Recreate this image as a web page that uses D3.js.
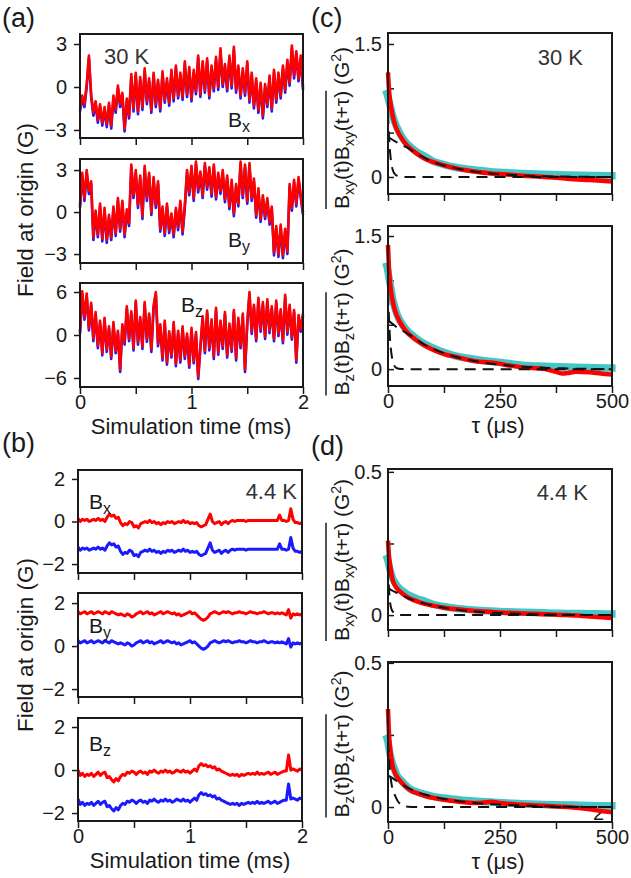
<!DOCTYPE html>
<html><head><meta charset="utf-8">
<script src="https://cdn.jsdelivr.net/npm/d3@7"></script>
<style>
html,body{margin:0;padding:0;background:#fff;}
svg{display:block;font-family:"Liberation Sans",Arial,Helvetica,sans-serif;}
</style></head><body>
<svg id="chart" width="631" height="878"></svg>
<script>
// ---------- time axis (ms), sampled every 0.02 ms ----------
const timeMs = d3.range(101).map(i => i * 0.02);
const timeTicks = [0, 0.5, 1, 1.5, 2];
const timeTickLabels = [0, 1, 2];

// ---------- (a) 30 K field traces (G) ----------
const bx30Red = [-1.5,-0.6,-1.2,0.2,2.2,-0.5,-1.8,-1.0,-2.3,-1.2,
 -2.5,-1.4,-2.6,-1.1,-2.7,-0.6,-1.6,0.1,-1.2,-0.4,
 -2.9,-0.8,-2.0,0.9,-1.5,1.0,-1.7,0.7,-1.4,1.3,
 -1.0,0.6,-1.6,1.0,-1.2,0.5,-1.5,1.1,-0.9,0.6,
 -1.1,1.2,-0.8,1.5,-0.6,1.0,-0.7,1.8,-0.5,1.4,
 -0.8,1.2,-0.3,2.2,-0.5,1.8,-0.2,2.0,-0.6,1.5,
 -0.1,2.1,0.0,2.7,0.2,1.6,-0.1,2.2,0.1,2.8,
 -0.2,1.5,-0.6,1.3,-0.4,1.8,-0.9,1.0,-1.3,0.6,
 -1.6,0.3,-2.0,0.2,-1.2,0.8,-1.5,1.2,-0.9,1.0,
 -0.6,1.5,-0.2,1.9,0.3,2.9,0.8,2.5,0.6,2.2,
 0.0];
const bx30Blue = [-1.7,-0.8,-1.4,0.0,2.0,-0.7,-2.0,-1.2,-2.5,-1.4,
 -2.7,-1.6,-2.8,-1.3,-2.9,-0.8,-1.8,-0.1,-1.4,-0.6,
 -3.1,-1.0,-2.2,0.7,-1.7,0.8,-1.9,0.5,-1.6,1.1,
 -1.2,0.4,-1.8,0.8,-1.4,0.3,-1.7,0.9,-1.1,0.4,
 -1.3,1.0,-1.0,1.3,-0.8,0.8,-0.9,1.6,-0.7,1.2,
 -1.0,1.0,-0.5,2.0,-0.7,1.6,-0.4,1.8,-0.8,1.3,
 -0.3,1.9,-0.2,2.5,0.0,1.4,-0.3,2.0,-0.1,2.6,
 -0.4,1.3,-0.8,1.1,-0.6,1.6,-1.1,0.8,-1.5,0.4,
 -1.8,0.1,-2.2,0.0,-1.4,0.6,-1.7,1.0,-1.1,0.8,
 -0.8,1.3,-0.4,1.7,0.1,2.7,0.6,2.3,0.4,2.0,
 -0.2];
const by30Red = [0.5,2.8,1.0,3.0,1.5,2.2,-1.8,0.1,-1.6,0.6,
 -1.9,0.3,-2.0,-0.2,-1.8,0.4,-1.5,1.0,-1.2,0.8,
 -1.6,0.2,-0.8,3.4,1.2,3.0,0.5,2.6,-0.3,3.3,
 1.0,2.8,0.0,2.5,0.5,2.2,-1.2,0.4,-1.5,0.6,
 -1.3,-0.1,-1.6,0.3,-1.1,0.8,-1.4,0.5,3.0,1.4,
 3.3,1.0,3.6,1.6,2.9,1.2,3.5,1.8,3.2,1.3,
 3.4,1.1,2.8,1.5,3.0,0.9,2.6,0.4,2.3,-0.1,
 2.0,0.6,3.6,1.2,3.4,0.8,3.5,1.0,2.4,-0.2,
 1.7,-0.5,1.2,-0.3,1.0,-0.7,0.4,-2.9,-1.0,-3.0,
 -0.9,-3.1,-1.2,-2.8,2.0,0.3,2.3,0.6,2.5,1.2,
 0.0];
const by30Blue = [0.3,2.6,0.8,2.8,1.3,2.0,-2.0,-0.1,-1.8,0.4,
 -2.1,0.1,-2.2,-0.4,-2.0,0.2,-1.7,0.8,-1.4,0.6,
 -1.8,0.0,-1.0,3.2,1.0,2.8,0.3,2.4,-0.5,3.1,
 0.8,2.6,-0.2,2.3,0.3,2.0,-1.4,0.2,-1.7,0.4,
 -1.5,-0.3,-1.8,0.1,-1.3,0.6,-1.6,0.3,2.8,1.2,
 3.1,0.8,3.4,1.4,2.7,1.0,3.3,1.6,3.0,1.1,
 3.2,0.9,2.6,1.3,2.8,0.7,2.4,0.2,2.1,-0.3,
 1.8,0.4,3.4,1.0,3.2,0.6,3.3,0.8,2.2,-0.4,
 1.5,-0.7,1.0,-0.5,0.8,-0.9,0.2,-3.1,-1.2,-3.2,
 -1.1,-3.3,-1.4,-3.0,1.8,0.1,2.1,0.4,2.3,1.0,
 -0.2];
const bz30Red = [0.5,6.1,2.5,5.8,1.0,4.5,-0.5,3.2,-1.5,2.0,
 -2.5,2.4,-2.0,1.2,-3.0,1.8,-2.2,0.6,-4.8,1.5,
 -1.0,4.0,-0.5,3.3,-1.8,4.8,-1.0,2.5,-1.6,4.6,
 -0.6,3.0,-2.0,4.1,6.0,-1.2,1.5,-3.2,2.0,-3.8,
 0.5,-2.8,1.8,-4.0,0.6,-3.5,1.2,-3.0,0.2,-4.2,
 1.0,-3.6,0.4,-5.8,-1.5,2.6,-2.2,3.4,-1.8,2.2,
 -3.0,3.8,-2.4,2.0,-1.6,3.2,-2.8,1.6,-2.0,3.5,
 -3.2,2.4,-1.5,3.0,-4.8,1.8,6.0,0.5,4.2,-0.5,
 5.2,0.8,4.6,-0.2,5.0,0.6,4.0,-0.5,4.8,0.2,
 3.6,-0.8,5.6,0.4,4.2,-0.3,3.5,-3.5,2.8,0.8,
 3.0];
const bz30Blue = [0.15,5.75,2.15,5.45,0.65,4.15,-0.85,2.85,-1.85,1.65,
 -2.85,2.05,-2.35,0.85,-3.35,1.45,-2.55,0.25,-5.15,1.15,
 -1.35,3.65,-0.85,2.95,-2.15,4.45,-1.35,2.15,-1.95,4.25,
 -0.95,2.65,-2.35,3.75,5.65,-1.55,1.15,-3.55,1.65,-4.15,
 0.15,-3.15,1.45,-4.35,0.25,-3.85,0.85,-3.35,-0.15,-4.55,
 0.65,-3.95,0.05,-6.15,-1.85,2.25,-2.55,3.05,-2.15,1.85,
 -3.35,3.45,-2.75,1.65,-1.95,2.85,-3.15,1.25,-2.35,3.15,
 -3.55,2.05,-1.85,2.65,-5.15,1.45,5.65,0.15,3.85,-0.85,
 4.85,0.45,4.25,-0.55,4.65,0.25,3.65,-0.85,4.45,-0.15,
 3.25,-1.15,5.25,0.05,3.85,-0.65,3.15,-3.85,2.45,0.45,
 2.65];

// ---------- (b) 4.4 K field traces (G) ----------
const bx44Red = [0.15,0.0,0.1,0.05,0.1,0.0,0.05,0.1,0.05,0.15,
 0.05,0.1,0.0,0.2,0.35,0.25,0.3,0.15,0.2,-0.05,
 -0.2,-0.1,-0.15,0.0,-0.05,-0.25,-0.2,-0.3,-0.1,-0.05,
 0.0,-0.05,0.05,-0.05,0.0,-0.1,-0.05,-0.15,-0.05,-0.1,
 0.0,-0.05,0.0,-0.1,-0.05,0.0,-0.05,0.05,-0.05,0.0,
 -0.1,-0.05,-0.1,-0.05,-0.2,-0.25,-0.2,-0.15,0.1,0.35,
 0.0,-0.1,-0.05,0.0,-0.15,-0.05,0.0,-0.1,0.0,0.05,
 0.0,0.05,0.05,0.05,0.05,0.0,0.05,0.05,0.05,0.05,
 0.05,0.05,0.05,0.05,0.05,0.05,0.05,0.05,0.05,0.05,
 0.3,0.05,0.05,0.0,0.05,0.6,0.1,-0.05,-0.05,-0.1,
 -0.05];
const bx44Blue = [-1.2,-1.35,-1.25,-1.3,-1.25,-1.35,-1.3,-1.25,-1.3,-1.2,
 -1.3,-1.25,-1.35,-1.15,-1.0,-1.1,-1.05,-1.2,-1.15,-1.4,
 -1.55,-1.45,-1.5,-1.35,-1.4,-1.6,-1.55,-1.65,-1.45,-1.4,
 -1.35,-1.4,-1.3,-1.4,-1.35,-1.45,-1.4,-1.5,-1.4,-1.45,
 -1.35,-1.4,-1.35,-1.45,-1.4,-1.35,-1.4,-1.3,-1.4,-1.35,
 -1.45,-1.4,-1.45,-1.4,-1.55,-1.6,-1.55,-1.5,-1.25,-1.0,
 -1.35,-1.45,-1.4,-1.35,-1.5,-1.4,-1.35,-1.45,-1.35,-1.3,
 -1.35,-1.3,-1.3,-1.3,-1.3,-1.35,-1.3,-1.3,-1.3,-1.3,
 -1.3,-1.3,-1.3,-1.3,-1.3,-1.3,-1.3,-1.3,-1.3,-1.3,
 -1.05,-1.3,-1.3,-1.35,-1.3,-0.75,-1.25,-1.4,-1.4,-1.45,
 -1.4];
const by44Red = [1.6,1.5,1.55,1.6,1.5,1.55,1.6,1.5,1.55,1.6,
 1.55,1.5,1.6,1.55,1.5,1.6,1.55,1.5,1.45,1.5,
 1.45,1.4,1.5,1.45,1.35,1.4,1.5,1.55,1.6,1.5,
 1.55,1.6,1.5,1.55,1.45,1.5,1.55,1.6,1.5,1.55,
 1.6,1.55,1.5,1.55,1.45,1.5,1.4,1.45,1.5,1.55,
 1.6,1.5,1.55,1.45,1.35,1.25,1.2,1.25,1.35,1.5,
 1.55,1.6,1.55,1.5,1.55,1.6,1.55,1.6,1.55,1.5,
 1.55,1.55,1.6,1.55,1.55,1.5,1.55,1.6,1.55,1.55,
 1.5,1.55,1.55,1.6,1.55,1.5,1.55,1.55,1.5,1.55,
 1.5,1.55,1.5,1.45,1.7,1.3,1.5,1.45,1.5,1.45,
 1.5];
const by44Blue = [0.25,0.15,0.2,0.25,0.15,0.2,0.25,0.15,0.2,0.25,
 0.2,0.15,0.25,0.2,0.15,0.25,0.2,0.15,0.1,0.15,
 0.1,0.05,0.15,0.1,0.0,0.05,0.15,0.2,0.25,0.15,
 0.2,0.25,0.15,0.2,0.1,0.15,0.2,0.25,0.15,0.2,
 0.25,0.2,0.15,0.2,0.1,0.15,0.05,0.1,0.15,0.2,
 0.25,0.15,0.2,0.1,0.0,-0.1,-0.15,-0.1,0.0,0.15,
 0.2,0.25,0.2,0.15,0.2,0.25,0.2,0.25,0.2,0.15,
 0.2,0.2,0.25,0.2,0.2,0.15,0.2,0.25,0.2,0.2,
 0.15,0.2,0.2,0.25,0.2,0.15,0.2,0.2,0.15,0.2,
 0.15,0.2,0.15,0.1,0.35,-0.05,0.15,0.1,0.15,0.1,
 0.15];
const bz44Red = [0.0,-0.25,-0.15,-0.3,-0.2,-0.25,-0.15,-0.3,-0.2,-0.1,
 -0.25,-0.15,-0.1,-0.35,-0.3,-0.45,-0.55,-0.4,-0.5,-0.3,
 -0.2,-0.25,-0.1,-0.15,-0.05,-0.1,-0.2,-0.1,-0.05,-0.15,
 -0.1,-0.2,-0.05,-0.1,0.0,-0.1,-0.15,-0.05,-0.1,0.0,
 -0.1,-0.05,-0.15,-0.1,0.0,-0.05,-0.1,0.0,-0.1,-0.05,
 -0.15,-0.05,0.05,-0.05,0.2,0.3,0.2,0.25,0.15,0.2,
 0.1,0.15,0.0,0.05,-0.05,-0.1,-0.15,-0.2,-0.25,-0.2,
 -0.25,-0.2,-0.3,-0.2,-0.25,-0.2,-0.15,-0.2,-0.15,-0.2,
 -0.1,-0.2,-0.15,-0.2,-0.15,-0.1,-0.2,-0.15,-0.1,-0.2,
 -0.15,-0.1,-0.05,-0.05,0.7,0.0,0.05,0.0,-0.05,0.05,
 0.0];
const bz44Blue = [-1.35,-1.6,-1.5,-1.65,-1.55,-1.6,-1.5,-1.65,-1.55,-1.45,
 -1.6,-1.5,-1.45,-1.7,-1.65,-1.8,-1.9,-1.75,-1.85,-1.65,
 -1.55,-1.6,-1.45,-1.5,-1.4,-1.45,-1.55,-1.45,-1.4,-1.5,
 -1.45,-1.55,-1.4,-1.45,-1.35,-1.45,-1.5,-1.4,-1.45,-1.35,
 -1.45,-1.4,-1.5,-1.45,-1.35,-1.4,-1.45,-1.35,-1.45,-1.4,
 -1.5,-1.4,-1.3,-1.4,-1.15,-1.05,-1.15,-1.1,-1.2,-1.15,
 -1.25,-1.2,-1.35,-1.3,-1.4,-1.45,-1.5,-1.55,-1.6,-1.55,
 -1.6,-1.55,-1.65,-1.55,-1.6,-1.55,-1.5,-1.55,-1.5,-1.55,
 -1.45,-1.55,-1.5,-1.55,-1.5,-1.45,-1.55,-1.5,-1.45,-1.55,
 -1.5,-1.45,-1.4,-1.4,-0.65,-1.35,-1.3,-1.35,-1.4,-1.3,
 -1.35];

// ---------- (c),(d) autocorrelations (G^2) vs tau (us) ----------
const tauTicks = [0, 125, 250, 375, 500];
const tauTickLabels = [0, 250, 500];
const fitTau = [-5,0,2,5,10,15,20,30,40,50,65,80,100,125,150,175,200,230,260,300,350,400,450,500,508];

const cxyTau = [0,2,5,10,15,20,30,40,50,65,80,100,125,150,175,200,230,260,300,350,400,450,500];
const cxyData = [1.18,1.0,0.85,0.7,0.6,0.53,0.44,0.37,0.32,0.26,0.21,0.17,0.13,0.1,0.075,0.055,0.04,0.03,0.015,0.0,-0.02,-0.035,-0.05];
const cxyFit = [0.98,0.9,0.86,0.8,0.7,0.62,0.56,0.46,0.39,0.34,0.28,0.24,0.18,0.14,0.11,0.09,0.075,0.06,0.05,0.04,0.03,0.022,0.017,0.013,0.013];
const cxySlowTau = [0,10,20,30,40,50,65,80,100,125,150,200,250,300,400,500];
const cxySlow = [0.45,0.42,0.39,0.36,0.34,0.31,0.26,0.22,0.17,0.13,0.1,0.055,0.03,0.016,0.004,0.0];
const cxyFastTau = [0,2,4,6,8,10,13,16,20,30,40,500];
const cxyFast = [0.72,0.48,0.32,0.21,0.14,0.09,0.05,0.03,0.015,0.003,0,0];

const czTau = [0,2,5,10,15,20,30,40,50,65,80,100,125,150,175,200,215,230,245,260,300,350,375,390,400,420,450,475,500];
const czData = [1.4,1.15,0.95,0.78,0.67,0.6,0.5,0.43,0.38,0.32,0.27,0.22,0.17,0.14,0.11,0.085,0.08,0.075,0.065,0.05,0.02,0.0,-0.03,-0.05,-0.045,-0.03,-0.035,-0.05,-0.06];
const czFit = [1.2,1.1,1.03,0.95,0.8,0.7,0.62,0.52,0.45,0.4,0.34,0.29,0.24,0.19,0.15,0.125,0.105,0.085,0.07,0.045,0.033,0.024,0.018,0.013,0.013];
const czSlowTau = [0,5,10,20,30,40,50,65,80,100,125,150,200,250,300,400,500];
const czSlow = [0.55,0.53,0.51,0.47,0.44,0.41,0.38,0.33,0.28,0.23,0.18,0.14,0.085,0.05,0.028,0.008,0.0];
const czFastTau = [0,2,4,5,7,10,13,16,20,30,40,500];
const czFast = [0.85,0.6,0.38,0.3,0.2,0.1,0.05,0.025,0.01,0.002,0,0];

const dxyTau = [0,2,5,10,15,20,30,40,50,65,80,100,125,150,175,200,250,300,350,400,450,500];
const dxyData = [0.26,0.21,0.17,0.125,0.105,0.093,0.078,0.066,0.057,0.048,0.04,0.033,0.026,0.021,0.017,0.014,0.009,0.006,0.003,0.0,-0.005,-0.01];
const dxyFit = [0.21,0.19,0.175,0.155,0.13,0.115,0.103,0.087,0.076,0.067,0.057,0.05,0.038,0.03,0.024,0.02,0.017,0.014,0.012,0.01,0.008,0.006,0.005,0.004,0.004];
const dxySlowTau = [0,5,10,20,30,40,50,65,80,100,125,150,200,250,300,400,500];
const dxySlow = [0.095,0.09,0.085,0.078,0.07,0.063,0.056,0.048,0.041,0.033,0.026,0.02,0.012,0.007,0.004,0.001,0];
const dxyFastTau = [0,2,3,5,8,12,18,25,35,500];
const dxyFast = [0.17,0.1,0.07,0.04,0.02,0.01,0.004,0.001,0,0];

const dzTau = [0,2,5,10,15,20,30,40,50,65,80,100,125,150,175,200,215,230,245,260,300,350,400,450,475,500];
const dzData = [0.34,0.26,0.2,0.145,0.12,0.105,0.085,0.07,0.058,0.048,0.04,0.032,0.025,0.02,0.016,0.014,0.016,0.018,0.015,0.012,0.008,0.004,0.0,-0.008,-0.014,-0.018];
const dzFit = [0.25,0.225,0.205,0.18,0.15,0.13,0.11,0.092,0.075,0.062,0.052,0.045,0.037,0.031,0.027,0.023,0.02,0.017,0.015,0.011,0.009,0.007,0.005,0.004,0.004];
const dzSlowTau = [0,5,10,20,30,40,50,65,80,100,125,150,200,250,300,400,500];
const dzSlow = [0.11,0.105,0.1,0.09,0.08,0.07,0.062,0.052,0.044,0.036,0.028,0.022,0.013,0.008,0.005,0.001,0];
const dzFastTau = [0,3,6,9,13,17,22,28,35,45,60,500];
const dzFast = [0.23,0.15,0.1,0.07,0.05,0.035,0.02,0.01,0.004,0.001,0,0];

// ---------- drawing ----------
const svg = d3.select("#chart");
const INK = "#1a1a1a";
const RED = "#ff0000", BLUE = "#1a1aff", CYAN = "#44c6c6";
const minusFmt = d => (d < 0 ? "\u2212" + Math.abs(d) : String(d));

function styleAxis(sel, fs) {
  sel.select(".domain").remove();
  sel.selectAll(".tick line").attr("stroke", INK).attr("stroke-width", 1.5);
  sel.selectAll(".tick text").attr("fill", INK).attr("font-size", fs)
    .attr("font-family", '"Liberation Sans", Arial, sans-serif');
}

function box(p) {
  svg.append("rect").attr("x", p.left).attr("y", p.top)
    .attr("width", p.right - p.left).attr("height", p.bottom - p.top)
    .attr("fill", "none").attr("stroke", INK).attr("stroke-width", 2);
}

function timePanel(p) {
  const x = d3.scaleLinear().domain([0, 2]).range([p.left, p.right]);
  const y = d3.scaleLinear().domain(p.yDomain).range([p.bottom, p.top]);
  const ya = d3.axisLeft(y).tickValues(p.yTicks).tickSize(6).tickPadding(7).tickFormat(minusFmt);
  svg.append("g").attr("transform", `translate(${p.left},0)`).call(ya).call(s => styleAxis(s, 20));
  const xa = d3.axisBottom(x).tickValues(timeTicks).tickSize(7).tickPadding(1)
    .tickFormat(d => (p.xLabels && timeTickLabels.includes(d)) ? String(d) : "");
  svg.append("g").attr("transform", `translate(0,${p.bottom})`).call(xa).call(s => styleAxis(s, 20));
  const line = d3.line().x((d, i) => x(timeMs[i])).y(d => y(d));
  svg.append("path").attr("d", line(p.blue)).attr("fill", "none").attr("stroke", BLUE)
    .attr("stroke-width", p.w).attr("stroke-linejoin", "round");
  svg.append("path").attr("d", line(p.red)).attr("fill", "none").attr("stroke", RED)
    .attr("stroke-width", p.w).attr("stroke-linejoin", "round");
  box(p);
}

function corrPanel(p) {
  const x = d3.scaleLinear().domain([0, 500]).range([p.left, p.right]);
  const y = d3.scaleLinear().domain(p.yDomain).range([p.bottom, p.top]);
  const ya = d3.axisLeft(y).tickValues(p.yTicks).tickSize(-6).tickPadding(6)
    .tickFormat(d => p.yLabels.includes(d) ? String(d) : "");
  svg.append("g").attr("transform", `translate(${p.left},0)`).call(ya).call(s => styleAxis(s, 20));
  const xa = d3.axisBottom(x).tickValues(tauTicks).tickSize(7).tickPadding(1)
    .tickFormat(d => (p.xLabels && tauTickLabels.includes(d)) ? String(d) : "");
  svg.append("g").attr("transform", `translate(0,${p.bottom})`).call(xa).call(s => styleAxis(s, 20));
  if (p.extra) p.extra(x, y);
  const mk = (taus) => d3.line().curve(d3.curveMonotoneX).x((d, i) => x(taus[i])).y(d => y(d));
  svg.append("path").attr("d", mk(fitTau)(p.fit)).attr("fill", "none").attr("stroke", CYAN)
    .attr("stroke-width", 7.5);
  svg.append("path").attr("d", mk(p.tau)(p.data)).attr("fill", "none").attr("stroke", RED)
    .attr("stroke-width", 4.5).attr("stroke-linejoin", "round");
  svg.append("path").attr("d", mk(p.slowTau)(p.slow)).attr("fill", "none").attr("stroke", "#111")
    .attr("stroke-width", 2).attr("stroke-dasharray", "11,7");
  svg.append("path").attr("d", mk(p.fastTau)(p.fast)).attr("fill", "none").attr("stroke", "#111")
    .attr("stroke-width", 2).attr("stroke-dasharray", "11,7");
  box(p);
}

function txt(x, y, s, fs, opts = {}) {
  return svg.append("text").attr("x", x).attr("y", y).attr("font-size", fs)
    .attr("fill", opts.fill || INK).attr("text-anchor", opts.anchor || "start").text(s);
}
function bLabel(x, y, sub) {
  const t = svg.append("text").attr("x", x).attr("y", y).attr("font-size", 21).attr("fill", INK);
  t.append("tspan").text("B");
  t.append("tspan").text(sub).attr("font-size", 16).attr("dy", 5);
}
function corrYLabel(sub, cx, cy) {
  const g = svg.append("g").attr("transform", `translate(${cx},${cy}) rotate(-90)`);
  const t = g.append("text").attr("font-size", 21).attr("fill", INK);
  t.append("tspan").text("B");
  t.append("tspan").text(sub).attr("font-size", 15).attr("dy", 5);
  t.append("tspan").text("(t)B").attr("dy", -5);
  t.append("tspan").text(sub).attr("font-size", 15).attr("dy", 5);
  t.append("tspan").text("(t+\u03c4)").attr("dy", -5);
  t.append("tspan").text(" (G");
  t.append("tspan").text("2").attr("font-size", 14).attr("dy", -8);
  t.append("tspan").text(")").attr("dy", 8);
  const node = t.node();
  const len = node.getComputedTextLength();
  t.attr("x", -len / 2);
  const n = 1 + sub.length + 4 + sub.length + 5;
  const x0 = node.getStartPositionOfChar(0).x;
  const x1 = node.getEndPositionOfChar(n - 1).x;
  g.append("line").attr("x1", x0).attr("x2", x1).attr("y1", -23).attr("y2", -23)
    .attr("stroke", INK).attr("stroke-width", 1.5);
}
function rotLabel(s, cx, cy, fs) {
  svg.append("text").attr("transform", `translate(${cx},${cy}) rotate(-90)`)
    .attr("text-anchor", "middle").attr("font-size", fs).attr("fill", INK).text(s);
}

// (a)
timePanel({left: 80, right: 303, top: 34, bottom: 138, yDomain: [-3.56, 3.70], yTicks: [-3, 0, 3], red: bx30Red, blue: bx30Blue, w: 2.6});
timePanel({left: 80, right: 303, top: 159, bottom: 263, yDomain: [-3.64, 3.79], yTicks: [-3, 0, 3], red: by30Red, blue: by30Blue, w: 2.6});
timePanel({left: 80, right: 303, top: 283, bottom: 387, yDomain: [-7.26, 7.26], yTicks: [-6, 0, 6], red: bz30Red, blue: bz30Blue, w: 2.6, xLabels: true});
// (b)
timePanel({left: 78, right: 302, top: 470, bottom: 573, yDomain: [-2.42, 2.42], yTicks: [-2, 0, 2], red: bx44Red, blue: bx44Blue, w: 3});
timePanel({left: 78, right: 302, top: 593, bottom: 697, yDomain: [-2.37, 2.47], yTicks: [-2, 0, 2], red: by44Red, blue: by44Blue, w: 3});
timePanel({left: 78, right: 302, top: 718, bottom: 821, yDomain: [-2.37, 2.42], yTicks: [-2, 0, 2], red: bz44Red, blue: bz44Blue, w: 3, xLabels: true});
// (c)
corrPanel({left: 388, right: 612, top: 33, bottom: 194, yDomain: [-0.192, 1.624], yTicks: [0, 0.5, 1, 1.5], yLabels: [0, 1.5],
  tau: cxyTau, data: cxyData, fit: cxyFit, slowTau: cxySlowTau, slow: cxySlow, fastTau: cxyFastTau, fast: cxyFast});
corrPanel({left: 388, right: 612, top: 226, bottom: 386, yDomain: [-0.19, 1.613], yTicks: [0, 0.5, 1, 1.5], yLabels: [0, 1.5], xLabels: true,
  tau: czTau, data: czData, fit: czFit, slowTau: czSlowTau, slow: czSlow, fastTau: czFastTau, fast: czFast});
// (d)
corrPanel({left: 388, right: 612, top: 469, bottom: 630, yDomain: [-0.052, 0.51], yTicks: [0, 0.25, 0.5], yLabels: [0, 0.5],
  tau: dxyTau, data: dxyData, fit: dxyFit, slowTau: dxySlowTau, slow: dxySlow, fastTau: dxyFastTau, fast: dxyFast});
corrPanel({left: 388, right: 612, top: 662, bottom: 822, yDomain: [-0.052, 0.503], yTicks: [0, 0.25, 0.5], yLabels: [0, 0.5], xLabels: true,
  tau: dzTau, data: dzData, fit: dzFit, slowTau: dzSlowTau, slow: dzSlow, fastTau: dzFastTau, fast: dzFast,
  extra: () => txt(593, 820, "2", 20)});

// annotations
txt(104, 64, "30 K", 22, {fill: "#333"});
bLabel(228, 127, "x");
bLabel(228, 247, "y");
bLabel(181, 312, "z");
txt(297, 499, "4.4 K", 22, {fill: "#333", anchor: "end"});
bLabel(89, 509, "x");
bLabel(89, 633, "y");
bLabel(89, 751, "z");
txt(583, 65, "30 K", 22, {fill: "#333", anchor: "end"});
txt(588, 500, "4.4 K", 22, {fill: "#333", anchor: "end"});

// axis titles
txt(191, 434, "Simulation time (ms)", 22, {anchor: "middle"});
txt(190, 868, "Simulation time (ms)", 22, {anchor: "middle"});
txt(498, 433, "\u03c4 (\u03bcs)", 22, {anchor: "middle"});
txt(498, 869, "\u03c4 (\u03bcs)", 22, {anchor: "middle"});
rotLabel("Field at origin (G)", 33, 210, 22.5);
rotLabel("Field at origin (G)", 33, 645, 22.5);
corrYLabel("xy", 349, 128);
corrYLabel("z", 349, 322);
corrYLabel("xy", 349, 560);
corrYLabel("z", 349, 744);

// panel letters
txt(2, 27, "(a)", 27);
txt(2, 452, "(b)", 27);
txt(311, 27, "(c)", 27);
txt(311, 455, "(d)", 27);
</script>
</body></html>
